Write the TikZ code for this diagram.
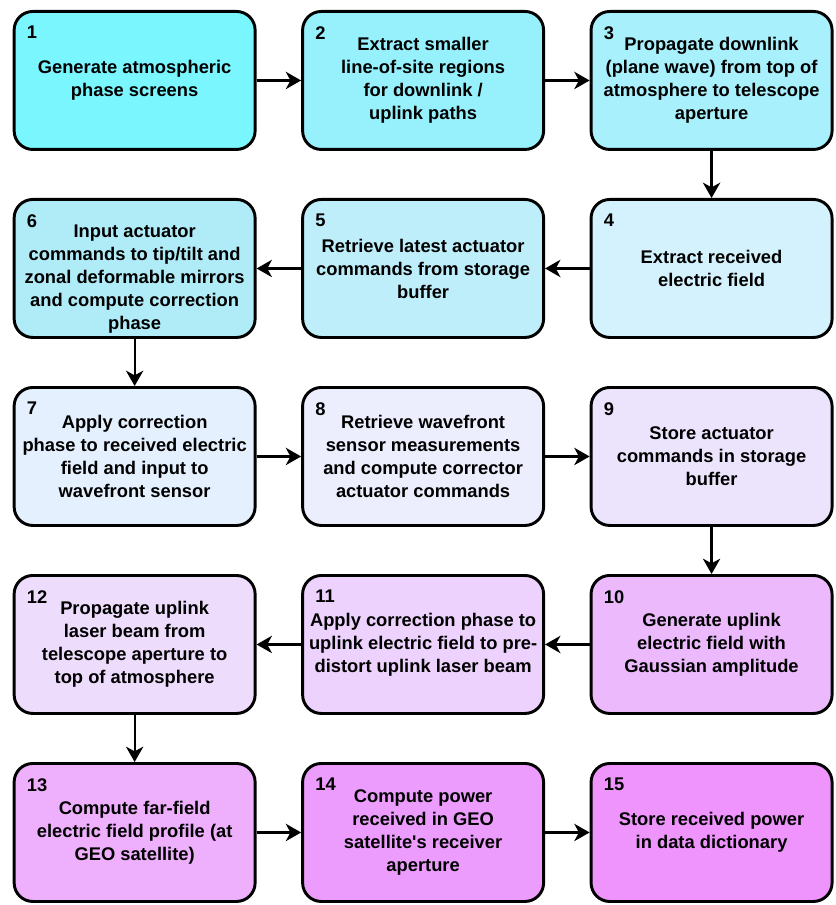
\documentclass[tikz,border=0pt]{standalone}
\usepackage{fontspec}
\setmainfont{Liberation Sans}[Ligatures=TeXOff]
\usetikzlibrary{arrows.meta,positioning}
\definecolor{c1}{RGB}{122,246,255}
\definecolor{c2}{RGB}{150,241,252}
\definecolor{c3}{RGB}{168,240,252}
\definecolor{c4}{RGB}{212,242,253}
\definecolor{c5}{RGB}{190,238,250}
\definecolor{c6}{RGB}{176,236,248}
\definecolor{c7}{RGB}{228,240,253}
\definecolor{c8}{RGB}{236,238,253}
\definecolor{c9}{RGB}{236,228,252}
\definecolor{c10}{RGB}{236,186,252}
\definecolor{c11}{RGB}{236,210,252}
\definecolor{c12}{RGB}{238,220,252}
\definecolor{c13}{RGB}{238,176,252}
\definecolor{c14}{RGB}{236,156,252}
\definecolor{c15}{RGB}{238,148,252}
\tikzset{
	->, >={Stealth[length=11.5pt,width=13pt,inset=3.5pt]}, node distance=35.3pt and 33.4pt,
	proc/.style={draw, line width=2.2pt, rounded corners=14pt, minimum width=180.75pt, minimum height=103.5pt,
		inner sep=2pt, align=center, font=\bfseries\fontsize{13.75pt}{17.25pt}\selectfont},
	num/.style={inner sep=0pt, anchor=north west, font=\bfseries\fontsize{13.75pt}{17.25pt}\selectfont},
	flow/.style={line width=1.7pt},
}

\begin{document}
\begin{tikzpicture}
		    \useasboundingbox (0,0) rectangle (626.25pt,-678.75pt);
		    % row 1
		    \node[proc, fill=c1, anchor=north west] (s1) at (9.5pt,-7.5pt) {Generate atmospheric\\phase screens};
		    \node[proc, fill=c2, right=of s1] (s2) {Extract smaller\\line-of-site regions\\for downlink /\\uplink paths};
		    \node[proc, fill=c3, right=of s2] (s3) {Propagate downlink\\(plane wave) from top of\\atmosphere to telescope\\aperture};
		    % row 2
		    \node[proc, fill=c4, below=of s3] (s4) {Extract received\\electric field};
		    \node[proc, fill=c5, left=of s4] (s5) {Retrieve latest actuator\\commands from storage\\buffer};
		    \node[proc, fill=c6, left=of s5] (s6) {\rule{0pt}{25pt}Input actuator\\commands to tip/tilt and\\zonal deformable mirrors\\and compute correction\\phase};
		    % row 3
		    \node[proc, fill=c7, below=of s6] (s7) {Apply correction\\phase to received electric\\field and input to\\wavefront sensor};
		    \node[proc, fill=c8, right=of s7] (s8) {Retrieve wavefront\\sensor measurements\\and compute corrector\\actuator commands};
		    \node[proc, fill=c9, right=of s8] (s9) {Store actuator\\commands in storage\\buffer};
		    % row 4
		    \node[proc, fill=c10, below=of s9] (s10) {Generate uplink\\electric field with\\Gaussian amplitude};
		    \node[proc, fill=c11, left=of s10] (s11) {Apply correction phase to\\uplink electric field to pre-\\distort uplink laser beam};
		    \node[proc, fill=c12, left=of s11] (s12) {Propagate uplink\\laser beam from\\telescope aperture to\\top of atmosphere};
		    % row 5
		    \node[proc, fill=c13, below=of s12] (s13) {Compute far-field\\electric field profile (at\\GEO satellite)};
		    \node[proc, fill=c14, right=of s13] (s14) {Compute power\\received in GEO\\satellite's receiver\\aperture};
		    \node[proc, fill=c15, right=of s14] (s15) {Store received power\\in data dictionary};
		    % step numbers
		    \foreach \i in {1,...,15}
		        \node[num] (n\i) at ([xshift=10.5pt,yshift=-12pt]s\i.north west) {\i};
		    \draw[flow]
			(s1) edge (s2)
			(s2) edge (s3)
			(s3) edge (s4)
			(s4) edge (s5)
			(s5) edge (s6)
			(s6) edge (s7)
			(s7) edge (s8)
			(s8) edge (s9)
			(s9) edge (s10)
			(s10) edge (s11)
			(s11) edge (s12)
			(s12) edge (s13)
			(s13) edge (s14)
			(s14) edge (s15);
		\end{tikzpicture}
\end{document}
